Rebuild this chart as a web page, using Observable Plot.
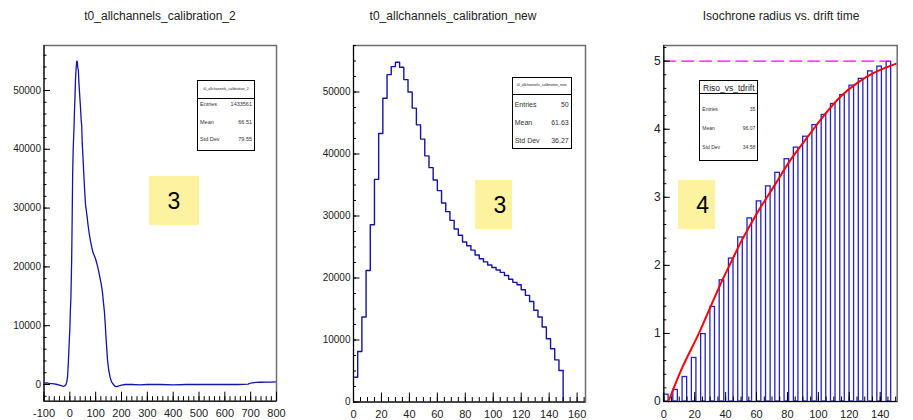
<!DOCTYPE html>
<html><head><meta charset="utf-8">
<script src="https://cdn.jsdelivr.net/npm/d3@7"></script>
<script src="https://cdn.jsdelivr.net/npm/@observablehq/plot@0.6"></script>
<style>
body{margin:0;background:#fff;font-family:"Liberation Sans",Arial,sans-serif;}
#root{position:relative;width:913px;height:420px;overflow:hidden;background:#fff}
.panel{position:absolute;top:0}
.title{position:absolute;top:15.5px;font-size:12px;color:#222;transform:translate(-50%,-50%);white-space:nowrap;line-height:1}
.stat{position:absolute;border:1px solid #000;background:#fff;box-sizing:border-box;color:#333}
.stat .hdr{position:absolute;left:0;right:0;border-bottom:1px solid #000}
.stat .ht{position:absolute;left:0;right:0;text-align:center;transform:translateY(-50%);white-space:nowrap;line-height:1;color:#222}
.stat .row{position:absolute;left:2px;right:2px;transform:translateY(-50%);line-height:1;white-space:nowrap}
.stat .row .v{position:absolute;right:0;top:0}
.ybox{position:absolute;background:#fdf29f}
.ybox span{position:absolute;top:50%;transform:translate(-50%,-50%);font-size:23px;color:#000;line-height:1}
</style></head>
<body><div id="root"></div>
<script>
// ---------- Data ----------
// Panel 1: t0_allchannels_calibration_2 (fine-binned histogram, read as points)
const t0X = [-100,-90,-80,-70,-60,-50,-40,-30,-25,-20,-15,-12,-9,-6,-3,0,2,4,7,9,11,13,16,18,20,22,24,25,27,29,31,33,35,37,40,42,44,46,48,50,52,55,58,61,64,67,70,75,80,85,90,95,100,105,111,116,121,126,130,134,137,141,146,151,156,162,169,175,182,190,200,215,240,270,300,350,400,450,500,550,600,650,690,700,720,740,760,780,800];
const t0Counts = [250,280,200,150,100,0,-100,-250,-300,-250,0,400,1200,3500,6500,9500,12500,14500,21000,28000,36000,40000,43500,46500,49000,52000,53500,54200,55000,54900,53800,53500,51500,50000,48000,46500,45000,44000,41000,39500,37600,35000,32500,30500,29500,28500,27300,25700,24400,23300,22400,21900,21300,20500,19400,18300,17200,15800,14000,12300,10300,7300,4100,2300,1200,400,0,-300,-350,-250,-100,0,0,-50,0,0,-50,0,0,0,0,0,50,250,350,380,400,420,430];

// Panel 2: t0_allchannels_calibration_new (50 bins of width 3)
const newBinLow = [0,3,6,9,12,15,18,21,24,27,30,33,36,39,42,45,48,51,54,57,60,63,66,69,72,75,78,81,84,87,90,93,96,99,102,105,108,111,114,117,120,123,126,129,132,135,138,141,144,147];
const newCounts = [4000,8150,13700,21200,28600,35900,43300,49000,52800,54100,54800,54000,52000,50000,47400,44700,42400,39700,37800,35800,34100,32100,30700,29300,27900,26900,25800,25200,24500,23700,23100,22600,22100,21700,21300,20900,20400,19800,19300,18900,18100,17200,16200,14800,13700,12100,10200,8600,6800,5080];

// Panel 3: Isochrone radius vs drift time
const tdriftLow = [0,6,12,18,24,30,36,42,48,54,60,66,72,78,84,90,96,102,108,114,120,126,132,138,144];
const riso = [0.10,0.17,0.36,0.64,0.99,1.39,1.78,2.10,2.41,2.69,2.94,3.16,3.36,3.56,3.73,3.89,4.06,4.21,4.37,4.50,4.64,4.74,4.85,4.92,4.99];
const fitX = [3,12,22.7,30,37,44,49.6,60.4,71.2,82,92.8,103.6,114.4,125.2,136.1,150];
const fitY = [0,0.5,1.0,1.38,1.74,2.07,2.33,2.77,3.16,3.55,3.88,4.2,4.48,4.68,4.83,4.96];
const rmax = [5];

// Tick labels
const p1XTicks = [-100,0,100,200,300,400,500,600,700,800];
const p1YTicks = [0,10000,20000,30000,40000,50000];
const p2XTicks = [0,20,40,60,80,100,120,140,160];
const p2YTicks = [0,10000,20000,30000,40000,50000];
const p3XTicks = [0,20,40,60,80,100,120,140];
const p3YTicks = [0,1,2,3,4,5];

const titles = ["t0_allchannels_calibration_2","t0_allchannels_calibration_new","Isochrone radius vs. drift time"];
const stats = [
  {name:"t0_allchannels_calibration_2", entries:"1433561", mean:"66.51", std:"79.55"},
  {name:"t0_allchannels_calibration_new", entries:"50", mean:"61.63", std:"36.27"},
  {name:"Riso_vs_tdrift", entries:"35", mean:"96.07", std:"34.58"}
];
const boxLabels = ["3","3","4"];

// ---------- Helpers ----------
const FONT = "Liberation Sans, Arial, Helvetica, sans-serif";
function minorVals(d0, d1, step){ const out=[]; for(let v=Math.ceil(d0/step)*step; v<=d1+1e-9; v+=step) out.push(+v.toFixed(6)); return out; }
function yTickMarks(vals, xd, frameW, len){
  const dx=(xd[1]-xd[0])*len/frameW;
  return Plot.ruleY(vals,{y:d=>d,x1:xd[0],x2:xd[0]+dx,stroke:"#000",strokeWidth:1});
}
function xTickMarks(vals, yd, frameH, len){
  const dy=(yd[1]-yd[0])*len/frameH;
  return Plot.ruleX(vals,{x:d=>d,y1:yd[0],y2:yd[0]+dy,stroke:"#000",strokeWidth:1});
}
function panel(cfg){
  const W=300,H=420;
  const fw=W-cfg.ml-cfg.mr, fh=H-cfg.mt-cfg.mb;
  const marks=[
    ...cfg.marks,
    Plot.frame({stroke:"#6e6e6e",strokeWidth:1.5}),
    Plot.ruleX([cfg.xd[0]],{stroke:"#000",strokeWidth:1}),
    Plot.ruleY([cfg.yd[0]],{stroke:"#000",strokeWidth:1}),
    yTickMarks(minorVals(cfg.yd[0],cfg.yd[1],cfg.yMinor),cfg.xd,fw,3),
    yTickMarks(cfg.yTicks,cfg.xd,fw,6.5),
    xTickMarks(minorVals(cfg.xd[0],cfg.xd[1],cfg.xMinor),cfg.yd,fh,4.5),
    xTickMarks(cfg.xTicks,cfg.yd,fh,9),
    Plot.text(cfg.yTicks,{x:cfg.xd[0],y:d=>d,dx:-3,textAnchor:"end",text:d=>String(d),fontSize:cfg.yFont,fill:"#222"}),
    Plot.text(cfg.xTicks,{x:d=>d,y:cfg.yd[0],dy:12.5,textAnchor:"middle",text:d=>String(d),fontSize:11,fill:"#222"})
  ];
  const svg=Plot.plot({width:W,height:H,marginLeft:cfg.ml,marginRight:cfg.mr,marginTop:cfg.mt,marginBottom:cfg.mb,
    x:{domain:cfg.xd,axis:null},y:{domain:cfg.yd,axis:null},
    style:{fontFamily:FONT,background:"transparent",overflow:"visible"},marks});
  const div=document.createElement("div"); div.className="panel"; div.style.left=cfg.left+"px"; div.appendChild(svg);
  return div;
}

const root=document.getElementById("root");
const blue="#1414a8";

const p1data=t0X.map((x,i)=>({x,y:t0Counts[i]}));
root.appendChild(panel({left:0,ml:43.5,mr:24,mt:45,mb:19.3,xd:[-100,800],yd:[-2840,57650],
  xTicks:p1XTicks,yTicks:p1YTicks,xMinor:20,yMinor:2000,yFont:10,
  marks:[Plot.line(p1data,{x:"x",y:"y",stroke:blue,strokeWidth:1.3})]}));

const p2data=newBinLow.map((x,i)=>({x,y:newCounts[i]}));
p2data.push({x:150,y:newCounts[newCounts.length-1]});
root.appendChild(panel({left:305,ml:48,mr:20,mt:45,mb:18.5,xd:[0,166],yd:[0,57500],
  xTicks:p2XTicks,yTicks:p2YTicks,xMinor:5,yMinor:2500,yFont:10,
  marks:[
    Plot.line(p2data,{x:"x",y:"y",curve:"step-after",stroke:blue,strokeWidth:1.4}),
    Plot.ruleX([150],{y1:0,y2:newCounts[newCounts.length-1],stroke:blue,strokeWidth:1.4})
  ]}));

const p3bars=tdriftLow.map((x,i)=>({x,y:riso[i]}));
const p3fit=fitX.map((x,i)=>({x,y:fitY[i]}));
root.appendChild(panel({left:613,ml:50.3,mr:16.3,mt:45,mb:19,xd:[0,151],yd:[0,5.23],
  xTicks:p3XTicks,yTicks:p3YTicks,xMinor:5,yMinor:0.2,yFont:12,
  marks:[
    Plot.rectY(p3bars,{x1:d=>d.x+0.15,x2:d=>d.x+3.1,y1:0,y2:"y",fill:"white",stroke:"#2323c4",strokeWidth:1.3}),
    Plot.ruleY(rmax,{x1:0,x2:147,stroke:"#ff00ff",strokeWidth:1.2,strokeDasharray:"13,5"}),
    Plot.line(p3fit,{x:"x",y:"y",curve:"catmull-rom",stroke:"#ff0000",strokeWidth:2})
  ]}));

// Titles
[160,453,781].forEach((cx,i)=>{const t=document.createElement("div");t.className="title";t.style.left=cx+"px";t.textContent=titles[i];root.appendChild(t);});

// Stat boxes
const boxGeom=[
  {l:197,t:80,w:58,h:71,hd:17.7,hf:3.6,rf:5.5,rows:[25,43.3,60]},
  {l:511.7,t:76.7,w:60,h:72.6,hd:17.3,hf:3.6,rf:7,rows:[27.6,45,63.3]},
  {l:699.3,t:80,w:59,h:80.7,hd:13.3,hf:8.5,rf:5,rows:[29.3,48.3,67.3]}
];
boxGeom.forEach((g,i)=>{
  const s=stats[i];
  const b=document.createElement("div");b.className="stat";
  Object.assign(b.style,{left:g.l+"px",top:g.t+"px",width:g.w+"px",height:g.h+"px"});
  const hd=document.createElement("div");hd.className="hdr";hd.style.top="0px";hd.style.height=(g.hd-1)+"px";b.appendChild(hd);
  const ht=document.createElement("div");ht.className="ht";ht.style.top=(g.hd/2)+"px";ht.style.fontSize=g.hf+"px";ht.textContent=s.name;b.appendChild(ht);
  [["Entries",s.entries],["Mean",s.mean],["Std Dev",s.std]].forEach((r,k)=>{
    const row=document.createElement("div");row.className="row";row.style.top=(g.rows[k]-1)+"px";row.style.fontSize=g.rf+"px";
    row.innerHTML=`<span>${r[0]}</span><span class="v">${r[1]}</span>`;b.appendChild(row);
  });
  root.appendChild(b);
});

// Yellow label boxes
[{l:149,t:176,w:50,h:49},{l:475,t:180,w:37,h:49},{l:677.7,t:180,w:37,h:49}].forEach((g,i)=>{
  const y=document.createElement("div");y.className="ybox";
  Object.assign(y.style,{left:g.l+"px",top:g.t+"px",width:g.w+"px",height:g.h+"px"});
  y.innerHTML=`<span style="left:25px">${boxLabels[i]}</span>`;root.appendChild(y);
});
</script></body></html>
